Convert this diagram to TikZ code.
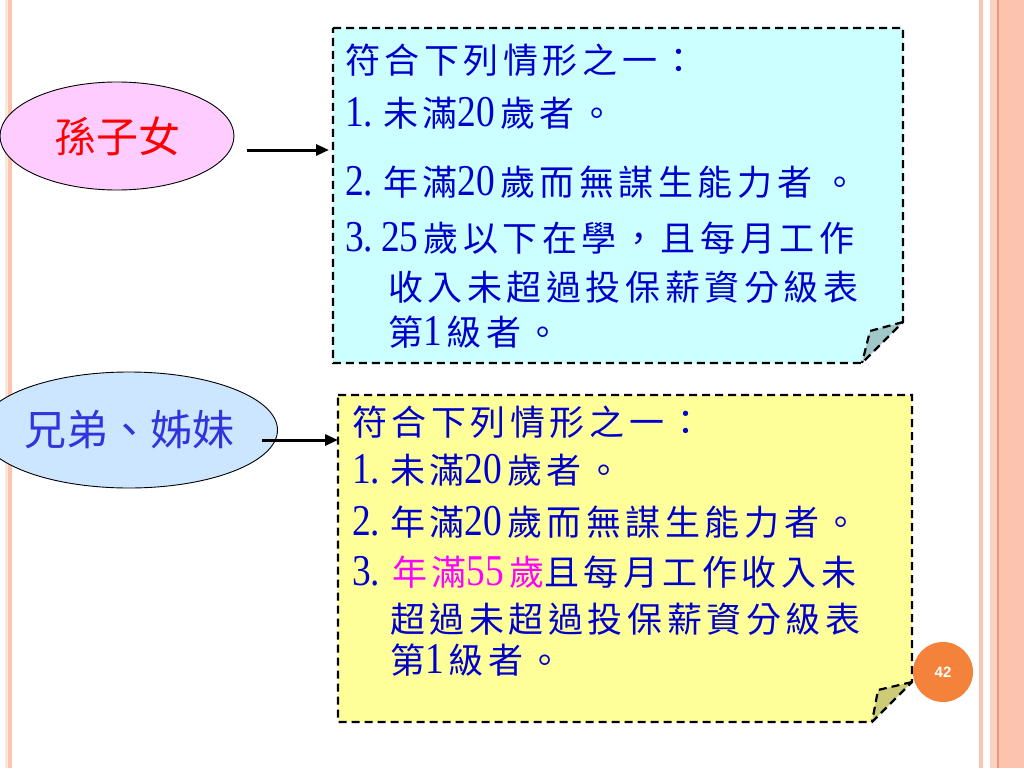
\documentclass[tikz,border=0pt]{standalone}
\usepackage{fontspec}
\setmainfont{Noto Sans CJK TC}
\newfontfamily\bx{Noto Sans CJK TC}[LetterSpace=13]
\newfontfamily\dgfont{Liberation Serif}[FakeStretch=0.85]
\newfontfamily\pnfont{Liberation Sans}
\newcommand\dg[1]{{\dgfont\fontsize{44}{44}\selectfont #1}}
\usetikzlibrary{shapes.geometric,arrows.meta}
\definecolor{tblue}{HTML}{0000CC}
\definecolor{emag}{HTML}{FF00FF}
\definecolor{cyanfill}{HTML}{CCFFFF}
\definecolor{cyanfold}{HTML}{A0C8C8}
\definecolor{yelfill}{HTML}{FFFF99}
\definecolor{yelfold}{HTML}{CCCC77}
\definecolor{pinkfill}{HTML}{FFCCFF}
\definecolor{bluefill}{HTML}{CCE6FF}
\definecolor{elred}{HTML}{FF0000}
\definecolor{elblue}{HTML}{3333DD}
\definecolor{pgorange}{HTML}{F5823A}
\definecolor{salmon}{HTML}{FCC4AE}
\definecolor{salmonlt}{HTML}{FBD2BF}
\definecolor{salmondk}{HTML}{E89A78}
\definecolor{palebar}{HTML}{FBE6DA}
\tikzset{
  txt/.style={anchor=west, inner sep=0pt, text=tblue, font={\fontsize{35}{40}\bx}},
  boxline/.style={draw=black, line width=2.2pt, dash pattern=on 8pt off 5pt, line join=miter},
  oval/.style={ellipse, draw=black, line width=0.9pt, inner sep=0pt, font={\fontsize{42}{48}\selectfont}},
  arr/.style={line width=3pt, -{Triangle[length=13pt,width=11pt]}}
}
\begin{document}
\begin{tikzpicture}[x=1pt,y=-1pt]
\useasboundingbox (0,0) rectangle (1024,768);
\fill[white] (0,0) rectangle (1024,768);
% decorative borders
\fill[palebar] (5,0) rectangle (8,768);
\fill[salmon] (8,0) rectangle (12,768);
\fill[salmon] (979,0) rectangle (983,768);
\fill[salmonlt] (990,0) rectangle (997,768);
\fill[salmon] (997,0) rectangle (1024,768);
\draw[salmondk, line width=1.2pt] (998,0) -- (998,768);

% box 1
\coordinate (b1nw) at (333,28);
\coordinate (b1ne) at (903,28);
\coordinate (b1c1) at (903,322);
\coordinate (b1f) at (870,331);
\coordinate (b1c2) at (862,363);
\coordinate (b1sw) at (333,363);
\path[fill=cyanfill] (b1nw) -- (b1ne) -- (b1c1) -- (b1c2) -- (b1sw) -- cycle;
\path[fill=cyanfold] (b1c1) -- (b1f) -- (b1c2) -- cycle;
\draw[boxline] (b1nw) -- (b1ne) -- (b1c1) -- (b1c2) -- (b1sw) -- cycle;
\draw[boxline] (b1c1) -- (b1f) -- (b1c2);

% box 2
\coordinate (b2nw) at (338,395);
\coordinate (b2ne) at (912,395);
\coordinate (b2c1) at (912,682);
\coordinate (b2f) at (878,690);
\coordinate (b2c2) at (872,722);
\coordinate (b2sw) at (338,722);
\path[fill=yelfill] (b2nw) -- (b2ne) -- (b2c1) -- (b2c2) -- (b2sw) -- cycle;
\path[fill=yelfold] (b2c1) -- (b2f) -- (b2c2) -- cycle;
\draw[boxline] (b2nw) -- (b2ne) -- (b2c1) -- (b2c2) -- (b2sw) -- cycle;
\draw[boxline] (b2c1) -- (b2f) -- (b2c2);

% box 1 text
\node[txt] (t11) at (345,60) {符合下列情形之一：};
\node[txt] (t12) at (345,113) {\dg{1.}\kern10pt 未滿\dg{20}\kern5pt 歲者。};
\node[txt] (t13) at (345,182) {\dg{2.}\kern10pt 年滿\dg{20}\kern5pt 歲而無謀生能力者\kern10pt 。};
\node[txt] (t14) at (345,238) {\dg{3.}\kern8pt\dg{25}\kern5pt 歲以下在學，且每月工作};
\node[txt] (t15) at (388,287) {收入未超過投保薪資分級表};
\node[txt] (t16) at (388,332) {第\dg{1}\kern5pt 級者。};

% box 2 text
\node[txt] (t21) at (352,422) {符合下列情形之一：};
\node[txt] (t22) at (352,470) {\dg{1.}\kern10pt 未滿\dg{20}\kern5pt 歲者。};
\node[txt] (t23) at (352,522) {\dg{2.}\kern10pt 年滿\dg{20}\kern5pt 歲而無謀生能力者。};
\node[txt] (t24) at (352,572) {\dg{3.}\kern12pt\textcolor{emag}{年滿\dg{55}\kern5pt 歲}且每月工作收入未};
\node[txt] (t25) at (390,619) {超過未超過投保薪資分級表};
\node[txt] (t26) at (390,660) {第\dg{1}\kern5pt 級者。};

% ellipses
\node[oval, fill=pinkfill, text=elred, minimum width=234pt, minimum height=108pt] (e1) at (117,136) {孫子女};
\node[oval, fill=bluefill, text=elblue, minimum width=258pt, minimum height=116pt] (e2) at (129,430) {兄弟、姊妹};

% arrows
\coordinate (a1s) at (247,150);
\coordinate (a1e) at (329,150);
\coordinate (a2s) at (262,440);
\coordinate (a2e) at (338,440);
\draw[arr] (a1s) -- (a1e);
\draw[arr] (a2s) -- (a2e);

% page number
\node[circle, fill=pgorange, minimum size=60pt, inner sep=0pt, text=white, font={\pnfont\bfseries\fontsize{15}{18}\selectfont}] (pg) at (943,672) {42};
\end{tikzpicture}
\end{document}
